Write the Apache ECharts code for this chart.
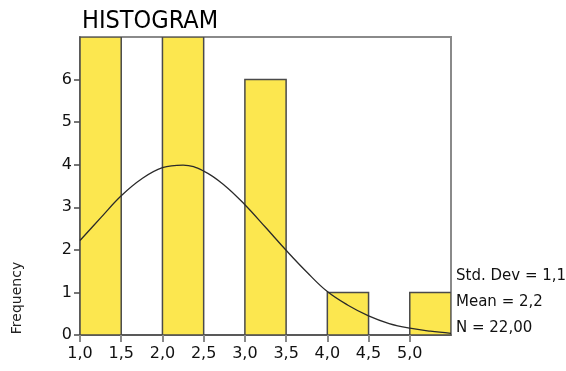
<!DOCTYPE html>
<html>
<head>
<meta charset="utf-8">
<script src="https://cdn.jsdelivr.net/npm/echarts@6/dist/echarts.min.js"></script>
<style>
html,body{margin:0;padding:0;background:#fff;}
#chart{width:566px;height:371px;}
</style>
</head>
<body>
<div id="chart"></div>
<script>
// Histogram bins
const binStarts = [1.0, 1.5, 2.0, 2.5, 3.0, 3.5, 4.0, 4.5, 5.0];
const binEnds   = [1.5, 2.0, 2.5, 3.0, 3.5, 4.0, 4.5, 5.0, 5.5];
const freqs     = [7, 0, 7, 0, 6, 0, 1, 0, 1];
// Fitted normal curve
const curveX = [1.0, 1.25, 1.5, 1.75, 2.0, 2.25, 2.5, 2.75, 3.0, 3.25, 3.5, 3.75, 4.0, 4.25, 4.5, 4.75, 5.0, 5.25, 5.5];
const curveY = [2.22, 2.75, 3.27, 3.67, 3.93, 3.99, 3.85, 3.52, 3.06, 2.53, 1.99, 1.48, 1.02, 0.70, 0.45, 0.27, 0.16, 0.09, 0.04];
// Axis ticks
const xTicks = [1.0, 1.5, 2.0, 2.5, 3.0, 3.5, 4.0, 4.5, 5.0];
const yTicks = [0, 1, 2, 3, 4, 5, 6];
const statsLines = ['Std. Dev = 1,1', 'Mean = 2,2', 'N = 22,00'];

const FONT = 'DejaVu Sans';
const chart = echarts.init(document.getElementById('chart'), null, {renderer: 'canvas'});

const barData = binStarts.map((s, i) => [s, binEnds[i], freqs[i]]);
const lineData = curveX.map((x, i) => [x, curveY[i]]);

chart.setOption({
  animation: false,
  backgroundColor: '#ffffff',
  title: {
    text: 'HISTOGRAM',
    left: 77, top: 4,
    textStyle: {fontFamily: '"DejaVu Sans Condensed", "DejaVu Sans", sans-serif', fontSize: 25, fontWeight: 'normal', color: '#000'}
  },
  grid: {
    left: 80, right: 115, top: 37, bottom: 36,
    show: true, borderColor: '#8a8a8a', borderWidth: 2, backgroundColor: 'transparent'
  },
  xAxis: {
    type: 'value', min: 1.0, max: 5.5, interval: 0.5,
    splitLine: {show: false},
    axisLine: {show: true, onZero: false, lineStyle: {color: '#4a4a4a', width: 1.5}},
    axisTick: {show: true, length: 7, customValues: xTicks, lineStyle: {color: '#8a8a8a', width: 2}},
    axisLabel: {
      customValues: xTicks,
      margin: 11,
      fontFamily: FONT, fontSize: 16, color: '#111',
      formatter: v => v.toFixed(1).replace('.', ',')
    }
  },
  yAxis: {
    type: 'value', min: 0, max: 7, interval: 1,
    splitLine: {show: false},
    axisLine: {show: true, onZero: false, lineStyle: {color: '#4a4a4a', width: 1.5}},
    axisTick: {show: true, length: 6, customValues: yTicks, lineStyle: {color: '#4a4a4a', width: 1.5}},
    axisLabel: {
      customValues: yTicks,
      margin: 8,
      fontFamily: FONT, fontSize: 16, color: '#111'
    }
  },
  graphic: [
    {
      type: 'text', x: 17, y: 298, rotation: Math.PI / 2,
      style: {text: 'Frequency', fontFamily: FONT, fontSize: 14, fill: '#222', align: 'center', verticalAlign: 'middle'}
    },
    {
      type: 'text', left: 456, top: 263,
      style: {text: statsLines.join('\n'), fontFamily: FONT, fontSize: 15, lineHeight: 26, fill: '#111'}
    }
  ],
  series: [
    {
      type: 'custom',
      clip: true,
      data: barData,
      encode: {x: [0, 1], y: 2},
      renderItem: function (params, api) {
        const v = api.value(2);
        if (!v) return null;
        const p0 = api.coord([api.value(0), 0]);
        const p1 = api.coord([api.value(1), v]);
        return {
          type: 'rect',
          shape: {x: p0[0], y: p1[1], width: p1[0] - p0[0], height: p0[1] - p1[1]},
          style: {fill: '#FCE74F', stroke: '#4a4a4a', lineWidth: 1.5}
        };
      },
      z: 2
    },
    {
      type: 'line',
      data: lineData,
      smooth: 0.4,
      showSymbol: false,
      symbol: 'none',
      lineStyle: {color: '#2a2a2a', width: 1.3},
      z: 3
    }
  ]
});
</script>
</body>
</html>
